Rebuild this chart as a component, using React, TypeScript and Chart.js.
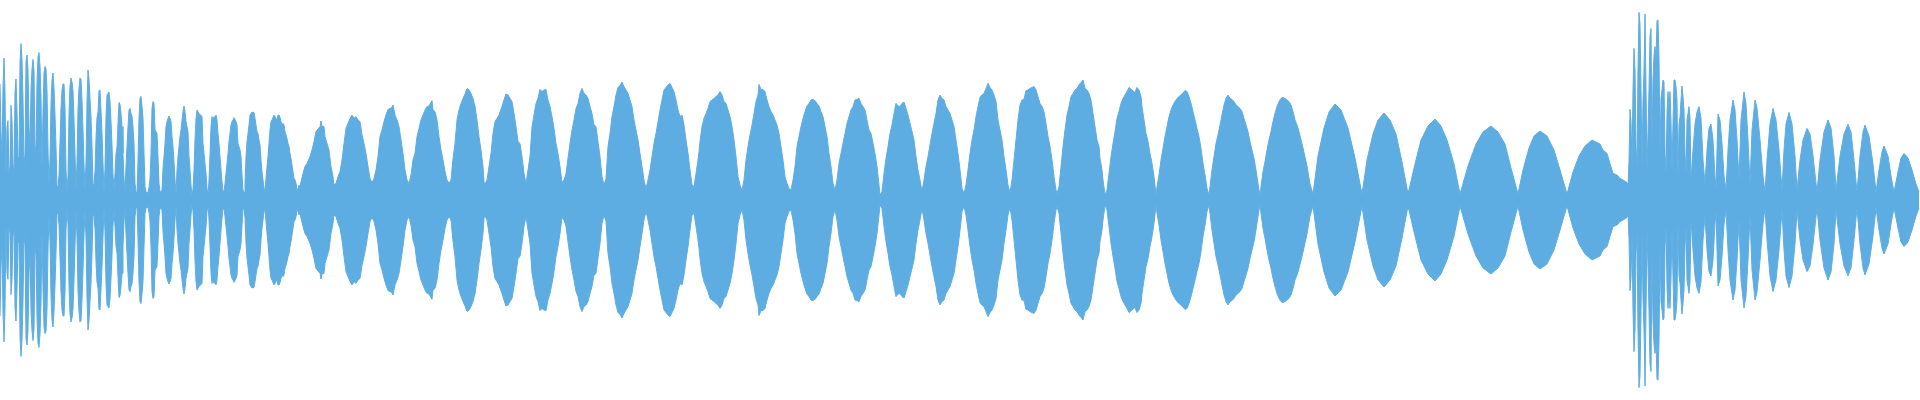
import { useEffect, useRef } from "react";
import { Chart, registerables } from "chart.js";

Chart.register(...registerables);

// Envelope of the waveform: [time (ms), amplitude (% of full scale)].
// The waveform is symmetric, the lower envelope mirrors the upper one.
const burstStart: [number, number][] = [
  [0, 58], [1, 33.3], [2, 23], [3, 56.3], [4, 71], [5, 54], [6, 12.2], [7, 36.7], [8, 39.7], [9, 13.3],
  [10, 16.7], [11, 47.3], [12, 39.7], [13, 18.3], [14, 13.3], [15, 54], [16, 60.5], [17, 45], [18, 21.7], [19, 20.7],
  [20, 68.7], [21, 78.2], [22, 70], [23, 50.3], [24, 17.2], [25, 23], [26, 69.3], [27, 72.5], [28, 65], [29, 36.7],
  [30, 26.7], [31, 55], [32, 65.5], [33, 70.3], [34, 64.7], [35, 23], [36, 28], [37, 58.7], [38, 71.7], [39, 73.7],
  [40, 67], [41, 51.2], [42, 15.5], [43, 44.7], [44, 63.7], [45, 66.8], [46, 65.5], [47, 55.3], [48, 25], [49, 7],
  [50, 21], [51, 48.3], [52, 60], [53, 63.5], [54, 55.7], [55, 42.3], [56, 26.7], [57, 6.7], [58, 6.7], [59, 12.2],
  [60, 29], [61, 45.8], [62, 55], [63, 58], [64, 58], [65, 46.2], [66, 15], [67, 4.2], [68, 12.5], [69, 43.3],
  [70, 57], [71, 61], [72, 59], [73, 54.7], [74, 40], [75, 22.5], [76, 5], [77, 19.3], [78, 45.5], [79, 55.8],
  [80, 61], [81, 60.3], [82, 50], [83, 34.7], [84, 17.5], [85, 5.5], [86, 18.7], [87, 49.2], [88, 65], [89, 60.3],
  [90, 50.7], [91, 41.3], [92, 27.2], [93, 6.5], [94, 8.3], [95, 14.3], [96, 30.7], [97, 41.2], [98, 44], [99, 54.7],
];

const arches100: [number, number][] = [
  [100, 55], [101, 44.5], [102, 33.3], [103, 18.3], [104, 4.2], [105, 15.8], [106, 41.7], [107, 52.5], [108, 53.3], [109, 54],
  [110, 49.2], [111, 39.2], [112, 27.5], [113, 12.5], [114, 5.8], [115, 13.3], [116, 23.3], [117, 26.7], [118, 38.3], [119, 48.8],
  [120, 47.8], [121, 43.3], [122, 36.7], [123, 23.3], [124, 10.8], [125, 4.2], [126, 16.7], [127, 26.7], [128, 36.7], [129, 45],
  [130, 45.8], [131, 43.3], [132, 41.7], [133, 36.7], [134, 28.3], [135, 8.3], [136, 4.2], [137, 3.3], [138, 20], [139, 40.8],
  [140, 50.8], [141, 51.8], [142, 46.7], [143, 40.8], [144, 23.3], [145, 6.7], [146, 4.2], [147, 3.3], [148, 4], [149, 6],
  [150, 10.8], [151, 23.3], [152, 45.8], [153, 49.2], [154, 48.3], [155, 35], [156, 34.2], [157, 33.3], [158, 21.7], [159, 8.3],
  [160, 4.2], [161, 4], [162, 5], [163, 15.8], [164, 21.7], [165, 28.3], [166, 36.7], [167, 39.2], [168, 40.8], [169, 42],
  [170, 40.8], [171, 39.2], [172, 31.7], [173, 26.7], [174, 19.2], [175, 10], [176, 3.3], [177, 15], [178, 21.7], [179, 26.7],
  [180, 31.7], [181, 35], [182, 40], [183, 44.2], [184, 47], [185, 44.2], [186, 39.2], [187, 36.7], [188, 34.2], [189, 21.7],
  [190, 15], [191, 7.5], [192, 1.7], [193, 5.8], [194, 15], [195, 30], [196, 40.8], [197, 45], [198, 44.2], [199, 43.3],
];

const arches200: [number, number][] = [
  [200, 42.8], [202, 41.7], [203, 28.3], [204, 23.3], [205, 18.3], [206, 13.3], [207, 5.8], [208, 2.5], [209, 10],
  [210, 22.5], [211, 36.7], [212, 41.7], [213, 40], [214, 41.7], [215, 41.3], [216, 42.5], [217, 40], [218, 33.3], [219, 28.3],
  [220, 21.7], [221, 15], [222, 9.2], [223, 4.2], [224, 4.2], [225, 8.3], [226, 13.3], [227, 18.3], [228, 23.3], [229, 29.2],
  [230, 33.3], [231, 37.5], [232, 39.2], [233, 40], [234, 41.2], [235, 40.3], [236, 39.2], [237, 37.5], [238, 28.3], [239, 26.7],
  [240, 25], [241, 21.7], [242, 12.5], [243, 5], [244, 3.7], [245, 8.3], [246, 21.7], [247, 29.2], [248, 33.3], [249, 37.5],
  [250, 42.5], [251, 43.3], [252, 44], [254, 43.7], [255, 40.8], [256, 37.5], [257, 34.2], [258, 33.3], [259, 30],
  [260, 27.5], [261, 20], [262, 14.2], [263, 10], [264, 5.8], [265, 5.3], [266, 10.8], [267, 16.7], [268, 21.7], [269, 28.3],
  [270, 35], [271, 39.2], [272, 40], [273, 41.3], [274, 42.5], [275, 41.7], [276, 40.8], [277, 40], [278, 42.5], [279, 42.5],
  [280, 41.3], [281, 39.2], [282, 37.5], [283, 38.3], [284, 37.5], [285, 34.2], [286, 32.5], [287, 30.8], [288, 28.3], [289, 26.7],
  [290, 23.3], [291, 20.8], [292, 17.5], [293, 14.2], [294, 10.8], [295, 10], [296, 8.3], [297, 5.8], [298, 5], [299, 7.5],
];

const arches300: [number, number][] = [
  [300, 6.7], [303, 13.3], [305, 16.7], [307, 18.3], [310, 21.7], [312, 25], [314, 29.2], [316, 34.2], [318, 35.5], [320, 36.7],
  [321, 39.5], [322, 37], [324, 36.7], [325, 31.7], [327, 28.3], [329, 25], [331, 16.7], [333, 11.7], [334, 7.5], [336, 8.3],
  [338, 11.7], [340, 14.2], [342, 20], [344, 28.3], [346, 35.8], [348, 38.3], [350, 40.8], [352, 42.5], [354, 40.8], [356, 41.7],
  [358, 40], [360, 39.2], [362, 32.5], [364, 28.3], [366, 23.3], [368, 16.7], [370, 10.8], [372, 8.7], [374, 10.8], [376, 15],
  [378, 21.7], [380, 31.7], [382, 35], [384, 39.2], [386, 42.5], [388, 45.3], [390, 45.8], [392, 46.3], [393, 47.5], [395, 42.5],
  [397, 40], [399, 36.7], [401, 30], [403, 23.3], [405, 15], [407, 10], [409, 8.3], [411, 12.5], [413, 20], [415, 23.3],
  [417, 31.7], [419, 35.8], [421, 40], [423, 42.5], [425, 45], [427, 46.7], [429, 47], [432, 49.7], [433, 45], [435, 44.2],
  [437, 40], [439, 31.7], [441, 25], [443, 20], [445, 14.2], [447, 10], [449, 8.3], [451, 10], [453, 20.8], [455, 28.3],
  [457, 40], [459, 45], [461, 48.3], [463, 50.8], [465, 53], [467, 55.7], [469, 55], [471, 53.3], [473, 50.8], [475, 46.7],
  [477, 40], [479, 31.7], [481, 25], [483, 16.7], [484, 9.2], [485, 8], [487, 10], [489, 16.7], [491, 23.3], [493, 33.3],
  [495, 39.2], [499, 42.5],
];

const arches500: [number, number][] = [
  [500, 44], [502, 46.7], [504, 50], [506, 53], [508, 52.5], [510, 50.8], [512, 49.2], [514, 43.3], [516, 36.7], [518, 29.2],
  [520, 28.3], [522, 21.7], [524, 13.3], [526, 8.3], [528, 15], [530, 21.7], [532, 36.7], [534, 42.5], [536, 48.3], [538, 50.8],
  [540, 55.3], [542, 54.2], [544, 55], [546, 55.3], [548, 50], [550, 46.7], [552, 41.7], [554, 35.8], [556, 28.3], [558, 23.3],
  [560, 16.7], [562, 8.7], [564, 10], [566, 13.3], [568, 20.8], [570, 28.3], [572, 35], [574, 40], [576, 45.8], [578, 48.3],
  [580, 53.3], [582, 55.8], [584, 53.3], [586, 52.5], [588, 50.8], [590, 46.7], [592, 43.3], [594, 37.5], [596, 36.7], [598, 29.2],
  [600, 21.7], [602, 11.7], [604, 7.5], [606, 10.8], [608, 26.7], [610, 33.3], [612, 41.7], [614, 46.7], [616, 52.5], [618, 56.3],
  [620, 57.3], [622, 59], [624, 56.7], [626, 55], [628, 53.3], [630, 50], [632, 46.7], [634, 40], [636, 35], [638, 30],
  [640, 23.3], [642, 16.7], [644, 10], [646, 5.8], [648, 10], [650, 15], [652, 21.7], [654, 28.3], [656, 33.3], [658, 39.2],
  [660, 45], [662, 50], [664, 55], [666, 56.3], [668, 57.5], [670, 58.3], [672, 56.3], [674, 54.2], [676, 50], [678, 45],
  [680, 41.7], [682, 42.5], [684, 37.5], [686, 30], [688, 23.3], [690, 15], [692, 7.5], [694, 6.7], [696, 13.3], [698, 20],
  [699, 24.2],
];

const arches700: [number, number][] = [
  [700, 29.2], [702, 36.7], [704, 40.8], [706, 43.3], [708, 45.8], [710, 49.2], [712, 50], [714, 50.8], [716, 51.7], [718, 52.5],
  [720, 54.2], [722, 52.5], [724, 49.2], [726, 48.3], [728, 45], [730, 41.7], [732, 36.7], [734, 30], [736, 21.7], [738, 11.7],
  [740, 7.5], [742, 5], [744, 10], [746, 20], [748, 26.7], [750, 32.5], [752, 37.5], [754, 43.3], [756, 49.2], [758, 52.5],
  [759, 57.8], [761, 55.3], [763, 55.3], [765, 54.2], [767, 50], [769, 46.7], [771, 44.2], [773, 42.5], [775, 40], [777, 37.5],
  [779, 33.3], [781, 26.7], [783, 20], [785, 11.7], [787, 8.3], [789, 5.8], [791, 5], [793, 10], [795, 16.7], [797, 26.7],
  [799, 31.7], [801, 36.7], [803, 40.8], [805, 44.2], [807, 47], [809, 48.3], [811, 50], [813, 50.3], [815, 49.7], [817, 48.3],
  [819, 47], [821, 44.2], [823, 41.7], [825, 36.7], [827, 31.7], [829, 23.3], [831, 16.7], [833, 8.3], [835, 5], [837, 10],
  [839, 18.3], [841, 23.3], [843, 28.3], [845, 33.3], [847, 38.3], [849, 41.7], [851, 45], [853, 46.7], [855, 50], [857, 50.3],
  [859, 50.8], [861, 48.3], [863, 46.7], [865, 45], [867, 40], [869, 35], [871, 33.3], [873, 28.3], [875, 23.3], [877, 16.7],
  [879, 7.5], [880, 2.5], [882, 4.2], [884, 13.3], [886, 20.8], [888, 26.7], [890, 33.3], [892, 37.5], [894, 43.3], [896, 48.3],
  [898, 47],
];

const arches900: [number, number][] = [
  [900, 46.7], [902, 48.3], [904, 49], [906, 45.8], [908, 42.5], [910, 38.3], [912, 34.2], [914, 30], [916, 21.7], [918, 15],
  [920, 10], [922, 4.2], [924, 10], [926, 16.7], [928, 21.7], [930, 27.5], [932, 33.3], [934, 38.3], [936, 43.3], [938, 50],
  [940, 52.5], [942, 50.8], [944, 50], [946, 46.7], [948, 45], [950, 43.3], [952, 40], [954, 36.7], [956, 30], [958, 23.3],
  [960, 15], [962, 5.8], [964, 3.3], [966, 7.5], [968, 15], [970, 23.3], [972, 30], [974, 35], [976, 41.7], [978, 46.7],
  [980, 51.3], [982, 52.5], [984, 53.3], [986, 55.8], [988, 58.3], [990, 56.3], [992, 55], [994, 52.5], [996, 49.2], [998, 40],
  [1000, 35], [1002, 30], [1004, 21.7], [1006, 15], [1008, 7.5], [1010, 3.7], [1012, 10], [1014, 20], [1016, 30], [1018, 40],
  [1020, 47.5], [1022, 50], [1024, 50.3], [1026, 54.7], [1028, 55], [1030, 55.8], [1032, 56.3], [1034, 56.7], [1036, 55], [1038, 51.7],
  [1040, 48.3], [1042, 46.7], [1044, 44.2], [1046, 38.3], [1048, 31.7], [1050, 26.7], [1052, 20], [1054, 11.7], [1056, 5], [1057, 3.3],
  [1059, 6.7], [1061, 16.7], [1063, 26.7], [1065, 35], [1067, 42.5], [1069, 46.7], [1071, 51.7], [1073, 53.3], [1075, 55], [1077, 55.8],
  [1079, 57.5], [1081, 58.7], [1083, 60], [1085, 55.8], [1087, 55], [1089, 53.3], [1091, 50], [1093, 43.3], [1095, 36.7], [1097, 30],
  [1099, 26.7],
];

const arches1100: [number, number][] = [
  [1100, 20.8], [1102, 15], [1103, 10], [1105, 2.5], [1107, 5], [1109, 13.3], [1111, 21.7], [1113, 28.3], [1115, 34.2], [1117, 40.8],
  [1119, 44.2], [1121, 48.3], [1123, 50.8], [1125, 52.5], [1127, 54.2], [1129, 56.3], [1132, 55], [1135, 53.7], [1137, 56.3], [1139, 55],
  [1141, 51.7], [1142, 46.7], [1144, 40], [1146, 33.3], [1148, 29.2], [1150, 23.3], [1152, 18.3], [1154, 11.7], [1156, 2.5], [1157, 6.7],
  [1159, 12.5], [1161, 20], [1163, 25.8], [1165, 31.7], [1167, 36.7], [1169, 41.7], [1171, 45], [1173, 47.5], [1175, 49.2], [1177, 50.8],
  [1179, 51.7], [1182, 53], [1185, 54.7], [1187, 54.2], [1189, 51.7], [1191, 48.3], [1193, 44.2], [1195, 40], [1197, 35.8], [1199, 31.7],
  [1201, 25.8], [1203, 18.3], [1205, 12.5], [1207, 5.8], [1209, 2.5], [1210, 6.7], [1212, 15], [1214, 21.7], [1216, 28.3], [1218, 32.5],
  [1220, 37.5], [1222, 42.5], [1224, 47.5], [1226, 50.8], [1228, 52.5], [1230, 50.8], [1232, 50.3], [1234, 49.2], [1236, 47.5], [1238, 46.7],
  [1240, 45.8], [1242, 44.2], [1244, 40.8], [1246, 37.5], [1248, 34.2], [1250, 29.2], [1252, 25], [1254, 20.8], [1256, 15], [1258, 8.3],
  [1260, 1.7], [1261, 6.7], [1263, 14.2], [1265, 19.2], [1267, 25], [1269, 30], [1271, 34.2], [1273, 39.2], [1275, 43.3], [1277, 46.7],
  [1279, 49.2], [1281, 50.8], [1283, 51.3], [1285, 50.8], [1287, 50], [1289, 49.2], [1291, 47.5], [1293, 44.2], [1295, 40], [1297, 37.5],
  [1299, 34.2],
];

const arches1300: [number, number][] = [
  [1303, 26], [1307, 17], [1310, 8], [1313, 3], [1318, 22], [1324, 36], [1329, 44], [1335, 48], [1341, 45], [1348, 36],
  [1355, 21], [1362, 3], [1367, 20], [1373, 33], [1378, 40], [1384, 43.5], [1390, 40], [1396, 33], [1402, 19], [1408, 3],
  [1415, 18], [1421, 30], [1428, 37], [1435, 40.5], [1441, 37], [1447, 30], [1454, 18], [1460, 3], [1468, 17], [1476, 28],
  [1483, 34], [1491, 37], [1498, 34], [1505, 28], [1511, 16], [1518, 3], [1523, 15], [1529, 26], [1534, 32], [1540, 34.5],
  [1547, 32], [1554, 25], [1560, 15], [1567, 3], [1573, 14], [1579, 22], [1585, 27], [1592, 30], [1596, 29], [1600, 28],
  [1603, 25], [1607, 23.3], [1610, 18.3], [1613, 13.3], [1617, 12.5], [1620, 10.8], [1623, 10], [1627, 8.7],
];

const burstEnd: [number, number][] = [
  [1628, 6.7], [1629, 19.2], [1630, 45.3], [1631, 39.2], [1632, 16.7], [1633, 55.3], [1634, 75.8], [1635, 65], [1636, 26.7], [1637, 16.7],
  [1638, 65.8], [1639, 93.8], [1640, 88], [1641, 55.8], [1642, 16.7], [1643, 49.2], [1644, 65], [1645, 93], [1646, 55.3], [1647, 15],
  [1648, 34.2], [1649, 55.3], [1650, 82], [1651, 85.8], [1652, 27.5], [1653, 60.3], [1654, 72], [1655, 76.7], [1656, 70.8], [1657, 89.7],
  [1658, 90], [1659, 70.8], [1660, 23.3], [1661, 50.8], [1662, 55], [1663, 60], [1664, 59.2], [1665, 23.3], [1666, 13.3], [1667, 43.3],
  [1668, 54.2], [1669, 45.8], [1670, 54.2], [1671, 39.2], [1672, 15], [1673, 38.3], [1674, 60], [1675, 60], [1676, 56.7], [1677, 50],
  [1678, 11.7], [1679, 37.5], [1680, 41.7], [1681, 50], [1682, 57], [1683, 51.7], [1684, 45], [1685, 23.3], [1686, 13.3], [1687, 40],
  [1688, 43.3], [1689, 46.7], [1690, 40.8], [1691, 10],
];

const archesEnd: [number, number][] = [
  [1693, 25], [1695, 38], [1697, 44], [1699, 46.7], [1701, 41], [1703, 20], [1705, 8], [1707, 25], [1709, 36], [1711, 38],
  [1713, 30], [1715, 12], [1716, 6], [1718, 43], [1720, 40], [1722, 28], [1724, 12], [1726, 5], [1728, 25], [1730, 40],
  [1733, 50], [1735, 45], [1737, 30], [1739, 10], [1741, 40], [1744, 54], [1746, 48], [1748, 30], [1750, 8], [1752, 35],
  [1755, 50], [1757, 46], [1760, 30], [1763, 12], [1765, 4], [1767, 20], [1770, 38], [1773, 45.8], [1776, 40], [1779, 25],
  [1782, 5], [1784, 25], [1786, 38], [1789, 43.8], [1792, 38], [1795, 22], [1797, 5], [1800, 20], [1803, 30], [1807, 35.8],
  [1810, 33], [1813, 22], [1817, 4], [1820, 20], [1824, 34], [1828, 40], [1831, 36], [1834, 22], [1836, 5], [1840, 22],
  [1844, 33], [1848, 37.8], [1851, 34], [1854, 20], [1857, 4], [1860, 22], [1863, 34], [1865, 37.5], [1869, 32], [1873, 18],
  [1876, 4], [1879, 15], [1882, 24], [1884, 27], [1888, 22], [1891, 12], [1894, 4], [1898, 14], [1901, 21], [1904, 23.3],
  [1908, 21], [1912, 15], [1916, 8], [1919, 4],
];

const segments = [
  burstStart, arches100, arches200, arches300, arches500, arches700,
  arches900, arches1100, arches1300, burstEnd, archesEnd,
];

const WAVE_COLOR = "#5dade2";

export default function App() {
  const canvasRef = useRef<HTMLCanvasElement | null>(null);

  useEffect(() => {
    document.body.style.margin = "0";
    const upper = segments.flat().map(([t, a]) => ({ x: t, y: a }));
    const lower = upper.map((p) => ({ x: p.x, y: -p.y }));
    const common = {
      fill: "origin" as const,
      backgroundColor: WAVE_COLOR,
      borderColor: WAVE_COLOR,
      borderWidth: 1,
      pointRadius: 0,
      tension: 0,
    };
    const chart = new Chart(canvasRef.current as HTMLCanvasElement, {
      type: "line",
      data: {
        datasets: [
          { label: "upper", data: upper, ...common },
          { label: "lower", data: lower, ...common },
        ],
      },
      options: {
        responsive: false,
        animation: false,
        devicePixelRatio: 1,
        layout: { padding: 0 },
        plugins: { legend: { display: false }, tooltip: { enabled: false } },
        scales: {
          x: { type: "linear", min: 0, max: 1920, display: false },
          y: { min: -100, max: 100, display: false },
        },
      },
    });
    return () => chart.destroy();
  }, []);

  return (
    <div style={{ position: "absolute", left: 0, top: 0, width: 1920, height: 400, background: "#fff" }}>
      <canvas ref={canvasRef} width={1920} height={400} style={{ display: "block" }} />
    </div>
  );
}
